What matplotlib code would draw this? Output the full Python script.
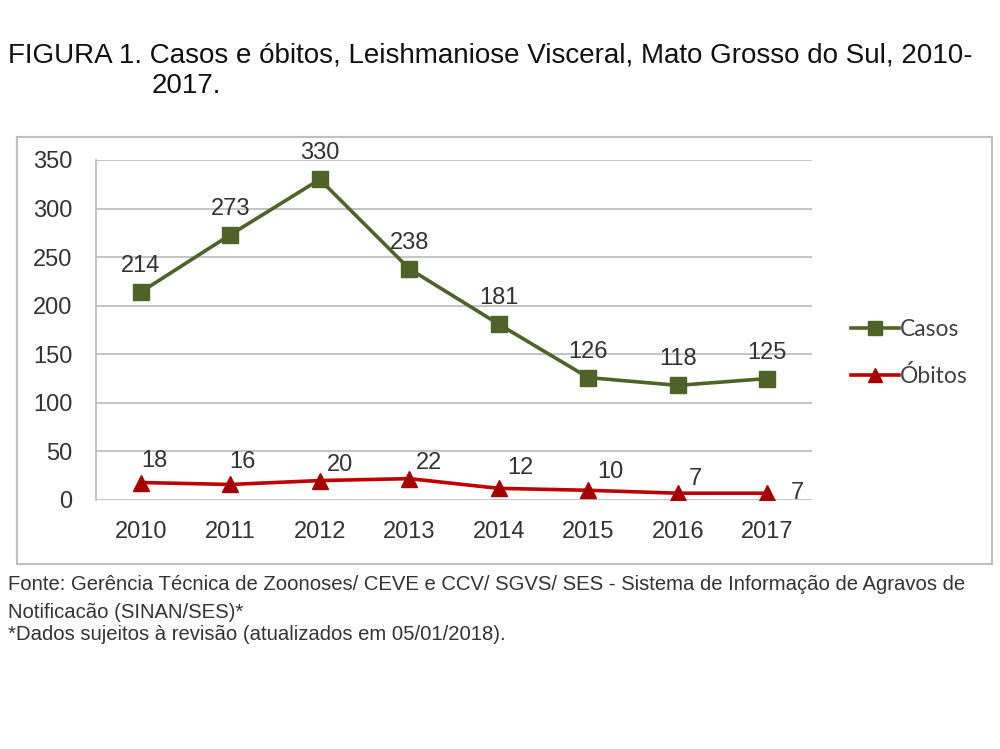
import matplotlib
matplotlib.use("Agg")
import matplotlib.pyplot as plt
from matplotlib.patches import Rectangle
from matplotlib.lines import Line2D

anos = ["2010", "2011", "2012", "2013", "2014", "2015", "2016", "2017"]
casos = [214, 273, 330, 238, 181, 126, 118, 125]
obitos = [18, 16, 20, 22, 12, 10, 7, 7]
yticks = [0, 50, 100, 150, 200, 250, 300, 350]

titulo1 = "FIGURA 1. Casos e óbitos, Leishmaniose Visceral, Mato Grosso do Sul, 2010-"
titulo2 = "2017."
fonte1 = "Fonte: Gerência Técnica de Zoonoses/ CEVE e CCV/ SGVS/ SES - Sistema de Informação de Agravos de"
fonte2 = "Notificacão (SINAN/SES)*"
fonte3 = "*Dados sujeitos à revisão (atualizados em 05/01/2018)."

# label offsets (pixels) for the óbitos data labels
ob_dx = [14, 12, 20, 20, 22, 22, 18, 30]
ob_dy = [22, 22, 16, 16, 20, 18, 14, 0]

verde = "#4F6228"
vermelho = "#C00000"
vermelho_m = "#A50000"
cinza = "#BFBFBF"

fig = plt.figure(figsize=(10, 7.49), dpi=100)
fig.patch.set_facecolor("white")

# outer chart box
box = Rectangle((17 / 1000, 1 - 564 / 749), (992 - 17) / 1000, (564 - 137) / 749,
                transform=fig.transFigure, fill=False, edgecolor=cinza, linewidth=1.5)
fig.patches.append(box)

ax = fig.add_axes([0.096, 1 - 500 / 749, 0.716, 340 / 749])
x = list(range(len(anos)))

ax.plot(x, casos, color=verde, linewidth=2.6, marker="s", markersize=12,
        markerfacecolor=verde, markeredgecolor=verde, zorder=3, label="Casos")
ax.plot(x, obitos, color=vermelho, linewidth=2.6, marker="^", markersize=12,
        markerfacecolor=vermelho_m, markeredgecolor=vermelho_m, zorder=3, label="Óbitos")

ax.set_xlim(-0.5, len(anos) - 0.5)
ax.set_ylim(0, 350)
ax.set_yticks(yticks)
ax.set_xticks(x)
ax.set_xticklabels(anos)
ax.grid(axis="y", color=cinza, linewidth=1.3)
ax.set_axisbelow(True)
for s in ["top", "right", "bottom"]:
    ax.spines[s].set_visible(False)
ax.spines["left"].set_color(cinza)
ax.spines["left"].set_linewidth(1.3)
ax.tick_params(axis="both", length=0, labelsize=17, labelcolor="#333333")
ax.tick_params(axis="y", pad=17)
ax.tick_params(axis="x", pad=15)
for lab in ax.get_xticklabels() + ax.get_yticklabels():
    lab.set_family("Liberation Sans")

for i, v in enumerate(casos):
    ax.annotate(str(v), (i, v), xytext=(0, 15), textcoords="offset pixels",
                ha="center", va="bottom", fontsize=17, color="#333333",
                family="Liberation Sans")
for i, v in enumerate(obitos):
    ax.annotate(str(v), (i, v), xytext=(ob_dx[i], ob_dy[i]), textcoords="offset pixels",
                ha="center", va="center", fontsize=17, color="#333333",
                family="Liberation Sans")

handles = [Line2D([], [], color=verde, linewidth=2.6, marker="s", markersize=10,
                  markerfacecolor=verde, markeredgecolor=verde),
           Line2D([], [], color=vermelho, linewidth=2.6, marker="^", markersize=10,
                  markerfacecolor=vermelho_m, markeredgecolor=vermelho_m)]
fig.legend(handles, ["Casos", "Óbitos"], loc="center left",
           bbox_to_anchor=(0.830, 1 - 353 / 749), frameon=False,
           prop={"family": ["Lato", "DejaVu Sans"], "size": 16.5},
           handlelength=2.1, handletextpad=0.05, labelspacing=1.1, labelcolor="#404040")

fig.text(0.008, 1 - 56 / 749, titulo1, fontsize=20, family="Liberation Sans",
         color="#111111", ha="left", va="center")
fig.text(0.152, 1 - 86 / 749, titulo2, fontsize=20, family="Liberation Sans",
         color="#111111", ha="left", va="center")

ffam = ["Liberation Sans Narrow", "Liberation Sans"]
fig.text(0.008, 1 - 585 / 749, fonte1, fontsize=14.6, family=ffam, color="#333333",
         ha="left", va="center")
fig.text(0.008, 1 - 612 / 749, fonte2, fontsize=14.6, family=ffam, color="#333333",
         ha="left", va="center")
fig.text(0.008, 1 - 635 / 749, fonte3, fontsize=14.6, family=ffam, color="#333333",
         ha="left", va="center")

fig.savefig("out.png", dpi=100)
